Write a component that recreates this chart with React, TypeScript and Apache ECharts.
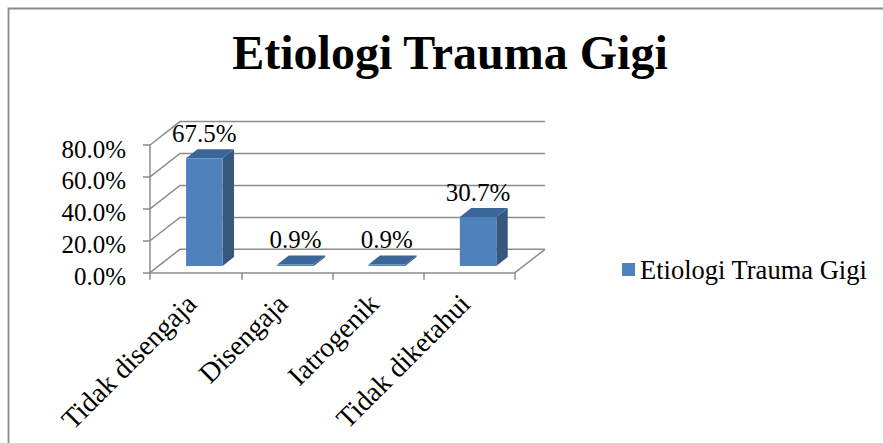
import React, { useEffect, useRef } from "react";
import * as echarts from "echarts";

const titleText = "Etiologi Trauma Gigi";
const seriesName = "Etiologi Trauma Gigi";
const categories = ["Tidak disengaja", "Disengaja", "Iatrogenik", "Tidak diketahui"];
const values = [0.675, 0.009, 0.009, 0.307];
const yTicks = [0, 0.2, 0.4, 0.6, 0.8];

const FONT = "Liberation Serif";
const GRAY = "#8c8c8c";
const DX = 30;
const DY = -23.4;
const FRONT_F = 0.29;
const DEPTH_F = 0.38;

const pct = (v: number) => (v * 100).toFixed(1) + "%";

export default function App() {
  const ref = useRef<HTMLDivElement>(null);
  useEffect(() => {
    if (!ref.current) return;
    const chart = echarts.init(ref.current, undefined, { renderer: "svg" });
    const barData = values.map((v, i) => [i, v]);
    const wallData = yTicks.map((v) => [0, v]);
    chart.setOption({
      animation: false,
      backgroundColor: "#fff",
      textStyle: { fontFamily: FONT },
      graphic: [
        {
          type: "rect",
          shape: { x: 8.5, y: 8.5, width: 900, height: 500 },
          style: { fill: "none", stroke: "#8a8a8a", lineWidth: 1.8 },
          silent: true,
          z: -10,
        },
        {
          type: "text",
          x: 450,
          y: 52,
          style: {
            text: titleText,
            fill: "#000",
            fontFamily: FONT,
            fontSize: 48,
            fontWeight: "bold",
            textAlign: "center",
            textVerticalAlign: "middle",
          },
        },
      ],
      legend: {
        data: [seriesName],
        left: 617,
        top: 251,
        icon: "rect",
        itemWidth: 13,
        itemHeight: 13,
        textStyle: { fontSize: 26.5, fontFamily: FONT, color: "#000" },
      },
      grid: { left: 150, top: 145, width: 365, height: 127.7, containLabel: false },
      xAxis: {
        type: "category",
        data: categories,
        axisLine: { lineStyle: { color: GRAY, width: 1.5 } },
        axisTick: { show: true, length: 7, lineStyle: { color: GRAY, width: 1.5 } },
        axisLabel: {
          rotate: 45,
          interval: 0,
          margin: 22,
          padding: [0, 6, 0, 0],
          fontSize: 28,
          fontFamily: FONT,
          color: "#000",
        },
        splitLine: { show: false },
      },
      yAxis: {
        type: "value",
        min: 0,
        max: 0.8,
        interval: 0.2,
        axisLine: { show: true, lineStyle: { color: GRAY, width: 1.5 } },
        axisTick: { show: true, length: 7, lineStyle: { color: GRAY, width: 1.5 } },
        axisLabel: {
          formatter: (v: number) => "{a|" + pct(v) + "}",
          margin: 24,
          fontSize: 25,
          fontFamily: FONT,
          color: "#000",
          rich: {
            a: { fontSize: 25, fontFamily: FONT, color: "#000", padding: [8, 0, 0, 0] },
          },
        },
        splitLine: { show: false },
      },
      series: [
        {
          type: "custom",
          name: "walls",
          silent: true,
          z: 1,
          data: wallData,
          renderItem: (params: any, api: any) => {
            const cs = params.coordSys;
            const v = api.value(1);
            const y = api.coord([0, v])[1];
            const x0 = cs.x;
            const x1 = cs.x + cs.width;
            const children: any[] = [
              {
                type: "polyline",
                shape: { points: [[x0, y], [x0 + DX, y + DY], [x1 + DX, y + DY]] },
                style: { stroke: GRAY, lineWidth: 1.5, fill: "none" },
              },
            ];
            if (v === 0) {
              children.push({
                type: "line",
                shape: { x1: x1, y1: y, x2: x1 + DX, y2: y + DY },
                style: { stroke: GRAY, lineWidth: 1.5 },
              });
            }
            return { type: "group", children };
          },
        },
        {
          type: "custom",
          name: seriesName,
          z: 3,
          itemStyle: { color: "#4F81BD" },
          data: barData,
          renderItem: (params: any, api: any) => {
            const i = api.value(0);
            const v = api.value(1);
            const base = api.coord([i, 0]);
            const top = api.coord([i, v]);
            const band = api.size([1, 0])[0];
            const w = band / 2.5;
            const fx = base[0] + FRONT_F * DX - w / 2;
            const fy0 = base[1] + FRONT_F * DY;
            const fy1 = top[1] + FRONT_F * DY;
            const sdx = DEPTH_F * DX;
            const sdy = DEPTH_F * DY;
            return {
              type: "group",
              children: [
                {
                  type: "polygon",
                  shape: {
                    points: [
                      [fx + w, fy1],
                      [fx + w + sdx, fy1 + sdy],
                      [fx + w + sdx, fy0 + sdy],
                      [fx + w, fy0],
                    ],
                  },
                  style: { fill: "#36587f" },
                },
                {
                  type: "polygon",
                  shape: {
                    points: [
                      [fx, fy1],
                      [fx + sdx, fy1 + sdy],
                      [fx + w + sdx, fy1 + sdy],
                      [fx + w, fy1],
                    ],
                  },
                  style: { fill: "#3d6698" },
                },
                {
                  type: "rect",
                  shape: { x: fx, y: fy1, width: w, height: Math.max(fy0 - fy1, 0) },
                  style: { fill: "#4F81BD" },
                },
                {
                  type: "text",
                  x: fx + w / 2,
                  y: fy1 - 24.5,
                  style: {
                    text: pct(v),
                    fill: "#000",
                    fontFamily: FONT,
                    fontSize: 25,
                    textAlign: "center",
                    textVerticalAlign: "middle",
                  },
                },
              ],
            };
          },
        },
      ],
    });
    return () => chart.dispose();
  }, []);
  return (
    <div
      ref={ref}
      style={{ position: "fixed", left: 0, top: 0, width: 883, height: 443 }}
    />
  );
}
